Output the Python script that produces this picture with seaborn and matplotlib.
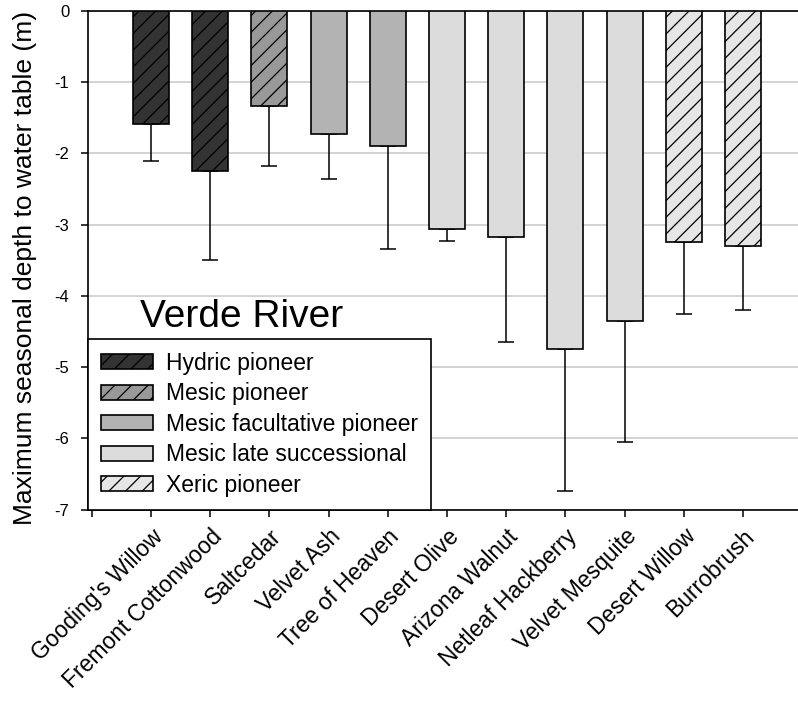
import matplotlib
matplotlib.use("Agg")
import matplotlib.pyplot as plt
import seaborn as sns
import pandas as pd
import numpy as np
from matplotlib.patches import Patch

# ---- data ----
species = ["Gooding's Willow", "Fremont Cottonwood", "Saltcedar", "Velvet Ash",
           "Tree of Heaven", "Desert Olive", "Arizona Walnut", "Netleaf Hackberry",
           "Velvet Mesquite", "Desert Willow", "Burrobrush"]
groups = ["Hydric pioneer", "Hydric pioneer", "Mesic pioneer",
          "Mesic facultative pioneer", "Mesic facultative pioneer",
          "Mesic late successional", "Mesic late successional",
          "Mesic late successional", "Mesic late successional",
          "Xeric pioneer", "Xeric pioneer"]
depth = [-1.59, -2.24, -1.34, -1.73, -1.90, -3.06, -3.17, -4.74, -4.35, -3.24, -3.30]
err_end = [-2.10, -3.50, -2.17, -2.36, -3.34, -3.23, -4.65, -6.74, -6.05, -4.25, -4.20]

group_order = ["Hydric pioneer", "Mesic pioneer", "Mesic facultative pioneer",
               "Mesic late successional", "Xeric pioneer"]
group_colors = ["#333333", "#999999", "#b3b3b3", "#dcdcdc", "#e6e6e6"]
group_hatch = ["//", "//", "", "", "//"]
yticks = [0, -1, -2, -3, -4, -5, -6, -7]

df = pd.DataFrame({"species": species, "group": groups, "depth": depth})

plt.rcParams["font.family"] = ["Liberation Sans", "DejaVu Sans"]
plt.rcParams["axes.unicode_minus"] = False
plt.rcParams["hatch.linewidth"] = 0.9

fig = plt.figure(figsize=(7.98, 7.17), dpi=100)
ax = fig.add_axes([88.3 / 798, 1 - 509.5 / 717, 1 - 88.3 / 798, (509.5 - 11) / 717])

sns.barplot(data=df, x="species", y="depth", hue="group", hue_order=group_order,
            palette=dict(zip(group_order, group_colors)), dodge=False, width=0.61,
            edgecolor="black", linewidth=1.2, errorbar=None, legend=False, ax=ax,
            order=species, zorder=3)

for cont, h in zip(ax.containers, group_hatch):
    for p in cont:
        p.set_hatch(h)

x = np.arange(len(species))
lower = np.array(depth) - np.array(err_end)
ax.errorbar(x, depth, yerr=[lower, np.zeros_like(lower)], fmt="none",
            ecolor="black", elinewidth=1.1, capsize=5.8, capthick=1.1, zorder=2)

ax.set_ylim(-7, 0)
ax.set_xlim(-1.06, 10.93)
ax.set_yticks(yticks)
ax.set_yticklabels([str(t) for t in yticks])
ax.set_xticks(np.arange(-1, len(species)))
ax.set_xticklabels([""] + species, rotation=45, ha="right", rotation_mode="anchor",
                   fontsize=16.5)
ax.tick_params(axis="y", labelsize=12, length=5, width=1.1, pad=8.6, direction="out")
ax.tick_params(axis="x", length=5, width=1.1, pad=6, direction="out")
ax.set_xlabel("")
ax.set_ylabel("Maximum seasonal depth to water table (m)", fontsize=19)
ax.yaxis.set_label_coords(-0.0723, 0.4855)

ax.set_axisbelow(True)
ax.yaxis.grid(True, color="#cccccc", linewidth=1.2, zorder=0)
ax.xaxis.grid(False)
for s in ["left", "top", "bottom"]:
    ax.spines[s].set_linewidth(1.2)
    ax.spines[s].set_color("black")
ax.spines["right"].set_visible(False)
ax.set_facecolor("white")

fig.text(140 / 798, 1 - 326.7 / 717, "Verde River", fontsize=28, ha="left",
         va="baseline")

handles = [Patch(facecolor=c, edgecolor="black", hatch=h, linewidth=1.2, label=g)
           for g, c, h in zip(group_order, group_colors, group_hatch)]
leg = ax.legend(handles=handles, loc="lower left", bbox_to_anchor=(0, 0),
                borderaxespad=0, fontsize=16.5, frameon=True, fancybox=False,
                edgecolor="black", framealpha=1, handlelength=2.27,
                handleheight=0.65, handletextpad=0.59, labelspacing=0.33,
                borderpad=0.55)
leg.get_frame().set_linewidth(1.2)
leg.set_zorder(5)

fig.savefig("out.png", dpi=100)
